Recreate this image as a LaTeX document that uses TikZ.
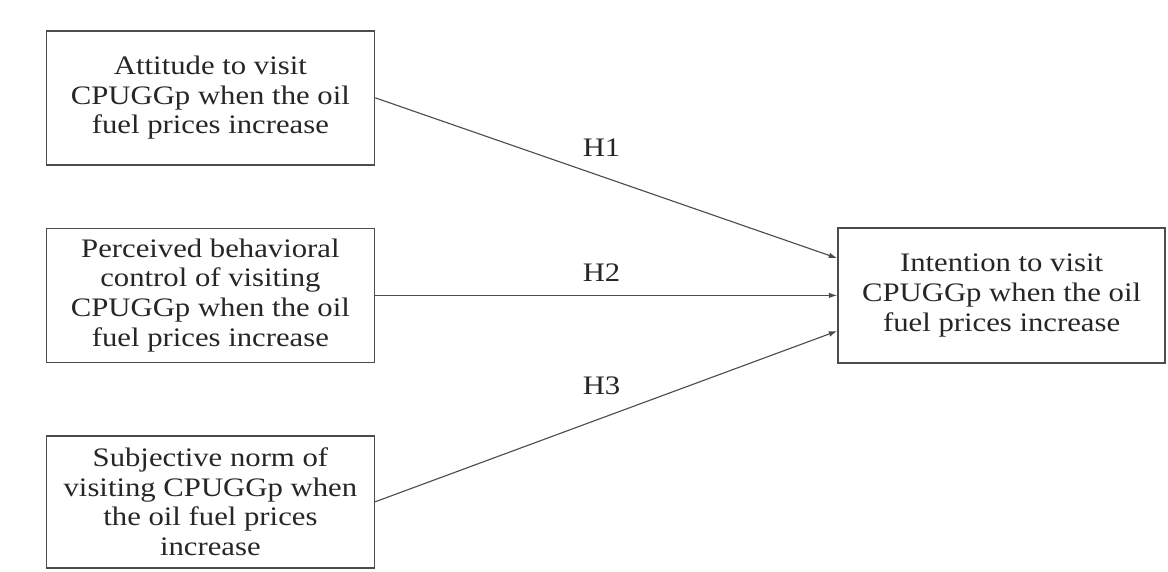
\documentclass[tikz,border=0pt]{standalone}
\usepackage{fontspec}
\setmainfont[FakeStretch=1.15]{Liberation Serif}
\usetikzlibrary{arrows.meta,positioning}

\begin{document}
\begin{tikzpicture}[
  box/.style={draw=black!70, line width=1.1pt, align=center,
    font=\fontsize{19}{21.1}\selectfont, text=black!85,
    minimum width=8.2cm, minimum height=3.35cm, inner sep=2pt},
  link/.style={draw=black!70, line width=0.8pt,
    -{Latex[length=6pt,width=4pt]}},
  hlabel/.style={font=\fontsize{19}{21.1}\selectfont, text=black!85}
]
  \useasboundingbox (0,0) rectangle (29.2,14.275);
  \node[box] (attitude) at (5.26,11.83)
    {Attitude to visit\\CPUGGp when the oil\\fuel prices increase};
  \node[box] (control) at (5.26,6.89)
    {Perceived behavioral\\control of visiting\\CPUGGp when the oil\\fuel prices increase};
  \node[box, minimum height=3.3cm] (norm) at (5.26,1.73)
    {Subjective norm of\\visiting CPUGGp when\\the oil fuel prices\\increase};
  \node[box, minimum width=8.18cm, minimum height=3.38cm] (intent) at (25.04,6.89)
    {Intention to visit\\CPUGGp when the oil\\fuel prices increase};
  \draw[link] (attitude.east) -- ([yshift=0.93cm]intent.west)
    node[hlabel, pos=0.49, above=0.36cm] {H1};
  \draw[link] (control.east) -- (intent.west)
    node[hlabel, pos=0.49, above=0.22cm] {H2};
  \draw[link] (norm.east) -- ([yshift=-0.89cm]intent.west)
    node[hlabel, pos=0.49, above=0.45cm] {H3};
\end{tikzpicture}
\end{document}
